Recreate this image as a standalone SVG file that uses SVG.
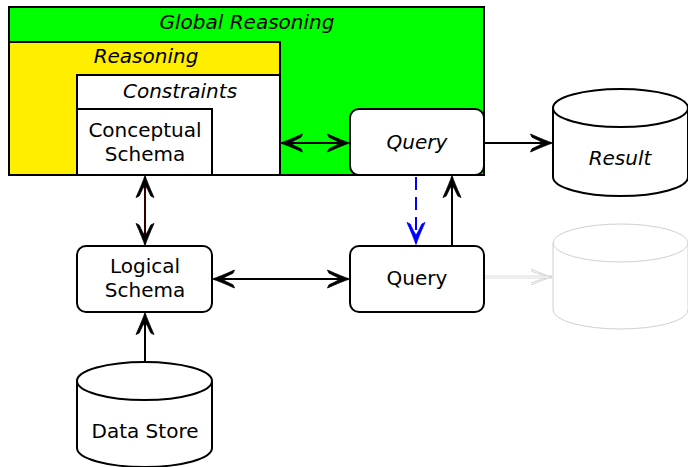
<svg xmlns="http://www.w3.org/2000/svg" width="688" height="467" viewBox="0 0 688 467">
<defs>
<style>
text{font-family:"DejaVu Sans","Open Sans",sans-serif;font-size:20px;fill:#000;text-anchor:middle}
.it{font-style:italic}
.box{stroke:#000;stroke-width:2}
.cyl{fill:#fff;stroke:#000;stroke-width:2}
.fcyl{fill:#fff;stroke:#d0d0d0;stroke-width:1}
.c{fill:none;stroke:#000;stroke-width:2}
</style>
<marker id="arr" viewBox="-24 -11 26 22" refX="0" refY="0" markerWidth="26" markerHeight="22" markerUnits="userSpaceOnUse" orient="auto-start-reverse">
<path d="M1.5,0 Q-6,-2.5 -20.5,-9 L-19,-5.8 Q-11,-2.2 -8,0 Q-11,2.2 -19,5.8 L-20.5,9 Q-6,2.5 1.5,0 Z" fill="#000" stroke="#000" stroke-width="0.8" stroke-linejoin="round"/>
</marker>
<marker id="arrb" viewBox="-24 -11 26 22" refX="0" refY="0" markerWidth="26" markerHeight="22" markerUnits="userSpaceOnUse" orient="auto-start-reverse">
<path d="M1.5,0 Q-6,-2.5 -20.5,-9 L-19,-5.8 Q-11,-2.2 -8,0 Q-11,2.2 -19,5.8 L-20.5,9 Q-6,2.5 1.5,0 Z" fill="#0000ff" stroke="#0000ff" stroke-width="0.8" stroke-linejoin="round"/>
</marker>
<marker id="arrg" viewBox="-24 -11 26 22" refX="0" refY="0" markerWidth="26" markerHeight="22" markerUnits="userSpaceOnUse" orient="auto">
<path d="M0,0 Q-7,-1.8 -21,-8 M0,0 Q-7,1.8 -21,8 M-3,0 Q-9,-1.5 -21,-6 M-3,0 Q-9,1.5 -21,6" fill="none" stroke="#d4d4d4" stroke-width="1"/>
</marker>
</defs>
<g id="global-reasoning">
<rect class="box" x="9" y="7" width="475" height="168" fill="#00ff00"/>
<text class="it" x="247" y="29">Global Reasoning</text>
</g>
<g id="reasoning">
<rect class="box" x="9" y="42" width="271" height="133" fill="#ffee00"/>
<text class="it" x="146" y="63">Reasoning</text>
</g>
<g id="constraints">
<rect class="box" x="77" y="75" width="203" height="100" fill="#fff"/>
<text class="it" x="180" y="98">Constraints</text>
</g>
<g id="conceptual-schema">
<rect class="box" x="77" y="109" width="135" height="66" fill="#fff"/>
<text x="145" y="137">Conceptual</text>
<text x="145" y="161">Schema</text>
</g>
<g id="query-top">
<rect class="box" x="350" y="109" width="134" height="66" rx="9" fill="#fff"/>
<text class="it" x="417" y="149">Query</text>
</g>
<g id="result">
<path class="cyl" d="M553 108 L553 177 A67.5 19 0 0 0 688 177 L688 108 A67.5 19 0 0 0 553 108 Z"/>
<path class="c" d="M553 108 A67.5 19 0 0 0 688 108"/>
<text class="it" x="620" y="165">Result</text>
</g>
<g id="faded-store">
<path class="fcyl" d="M553 243 L553 310 A67.5 19 0 0 0 688 310 L688 243 A67.5 19 0 0 0 553 243 Z"/>
<path fill="none" stroke="#d0d0d0" stroke-width="1" d="M553 243 A67.5 19 0 0 0 688 243"/>
</g>
<g id="logical-schema">
<rect class="box" x="77" y="246" width="135" height="66" rx="9" fill="#fff"/>
<text x="145" y="273">Logical</text>
<text x="145" y="297">Schema</text>
</g>
<g id="query-bottom">
<rect class="box" x="350" y="246" width="134" height="66" rx="9" fill="#fff"/>
<text x="417" y="285">Query</text>
</g>
<g id="data-store">
<path class="cyl" d="M77 381 L77 448 A67.5 19 0 0 0 212 448 L212 381 A67.5 19 0 0 0 77 381 Z"/>
<path class="c" d="M77 381 A67.5 19 0 0 0 212 381"/>
<text x="145" y="438">Data Store</text>
</g>
<g id="connectors">
<line class="c" x1="282" y1="143" x2="348" y2="143" marker-start="url(#arr)" marker-end="url(#arr)"/>
<line class="c" x1="485" y1="143" x2="551" y2="143" marker-end="url(#arr)"/>
<line x1="145" y1="177" x2="145" y2="244" stroke="#300000" stroke-width="2" marker-start="url(#arr)" marker-end="url(#arr)"/>
<line x1="416" y1="177" x2="416" y2="243" stroke="#0000ff" stroke-width="2" stroke-dasharray="13,7" marker-end="url(#arrb)"/>
<line class="c" x1="452" y1="246" x2="452" y2="177" marker-end="url(#arr)"/>
<line class="c" x1="214" y1="279" x2="348" y2="279" marker-start="url(#arr)" marker-end="url(#arr)"/>
<line class="c" x1="145" y1="362" x2="145" y2="314" marker-end="url(#arr)"/>
<line x1="485" y1="277" x2="552" y2="277" stroke="#dcdcdc" stroke-width="3" marker-end="url(#arrg)"/>
<line x1="485" y1="277" x2="549" y2="277" stroke="#fff" stroke-width="1"/>
</g>
</svg>
